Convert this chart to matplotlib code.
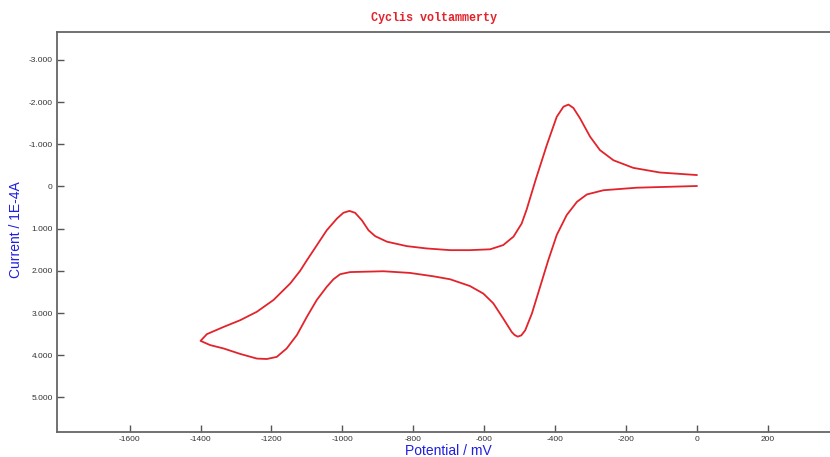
import matplotlib
matplotlib.use("Agg")
import matplotlib.pyplot as plt

# forward (cathodic) scan: 0 mV -> -1400 mV, lower branch
fwd_mv = [0, -84, -169, -263, -310, -338, -367, -395, -419, -442, -465, -484,
          -495, -505, -514, -522, -546, -574, -602, -640, -696, -743, -809, -884,
          -978, -1006, -1025, -1044, -1072, -1100, -1128, -1157, -1185, -1213,
          -1241, -1288, -1335, -1373, -1400]
fwd_cur = [-0.01, 0.01, 0.03, 0.09, 0.19, 0.365, 0.68, 1.15, 1.75, 2.38, 3.01, 3.41,
           3.53, 3.56, 3.52, 3.45, 3.13, 2.77, 2.54, 2.36, 2.20, 2.13, 2.05, 2.01,
           2.03, 2.08, 2.20, 2.38, 2.69, 3.09, 3.52, 3.84, 4.04, 4.09,
           4.08, 3.97, 3.84, 3.76, 3.66]

# reverse (anodic) scan: -1400 mV -> 0 mV, upper branch
rev_mv = [-1400, -1382, -1335, -1288, -1241, -1194, -1147, -1119, -1100, -1081,
          -1044, -1015, -997, -980, -964, -945, -926, -907, -874, -818, -762,
          -696, -640, -583, -546, -517, -494, -480, -454, -423, -395, -376, -362,
          -348, -329, -301, -273, -235, -179, -104, 0]
rev_cur = [3.66, 3.50, 3.33, 3.17, 2.97, 2.69, 2.30, 2.00, 1.75, 1.51,
           1.04, 0.76, 0.625, 0.58, 0.625, 0.80, 1.04, 1.18, 1.31, 1.415, 1.47,
           1.51, 1.51, 1.49, 1.39, 1.19, 0.88, 0.55, -0.17, -0.98, -1.65, -1.89, -1.94,
           -1.86, -1.61, -1.18, -0.86, -0.62, -0.44, -0.33, -0.27]

x_ticks = [-1600, -1400, -1200, -1000, -800, -600, -400, -200, 0, 200]
y_ticks = [-3, -2, -1, 0, 1, 2, 3, 4, 5]
y_labels = ['-3.000', '-2.000', '-1.000', '0', '1.000', '2.000', '3.000', '4.000', '5.000']

fig = plt.figure(figsize=(8.3, 4.57), dpi=100)
ax = fig.add_axes([57 / 830, 1 - 432 / 457, 1 - 57 / 830, 400 / 457])

ax.plot(fwd_mv + rev_mv, fwd_cur + rev_cur, color='#e3232b', linewidth=1.3,
        solid_joinstyle='round')

ax.set_xlim(-1805, 376)
ax.set_ylim(5.82, -3.66)

ax.set_xticks(x_ticks)
ax.set_xticklabels([str(v) for v in x_ticks])
ax.set_yticks(y_ticks)
ax.set_yticklabels(y_labels)
ax.tick_params(direction='in', length=5, width=1, color='#555555',
               labelsize=6, labelcolor='#333333', pad=3)
for lab in ax.get_xticklabels() + ax.get_yticklabels():
    lab.set_family('Liberation Sans')

for side in ['left', 'top', 'bottom']:
    ax.spines[side].set_color('#666666')
    ax.spines[side].set_linewidth(1.3)
ax.spines['right'].set_visible(False)

fig.text(448 / 830, 1 - 451 / 457, 'Potential / mV', color='#1f1fe0', fontsize=10,
         family='Liberation Sans', ha='center', va='center')
fig.text(16 / 830, 1 - 230 / 457, 'Current / 1E-4A', color='#1f1fe0', fontsize=10,
         family='Liberation Sans', rotation=90, ha='center', va='center')
fig.text(434 / 830, 1 - 18 / 457, 'Cyclis voltammerty', color='#e3232b', fontsize=8.5,
         family='Liberation Mono', fontweight='bold', ha='center', va='center')

fig.savefig('out.png', dpi=100)
